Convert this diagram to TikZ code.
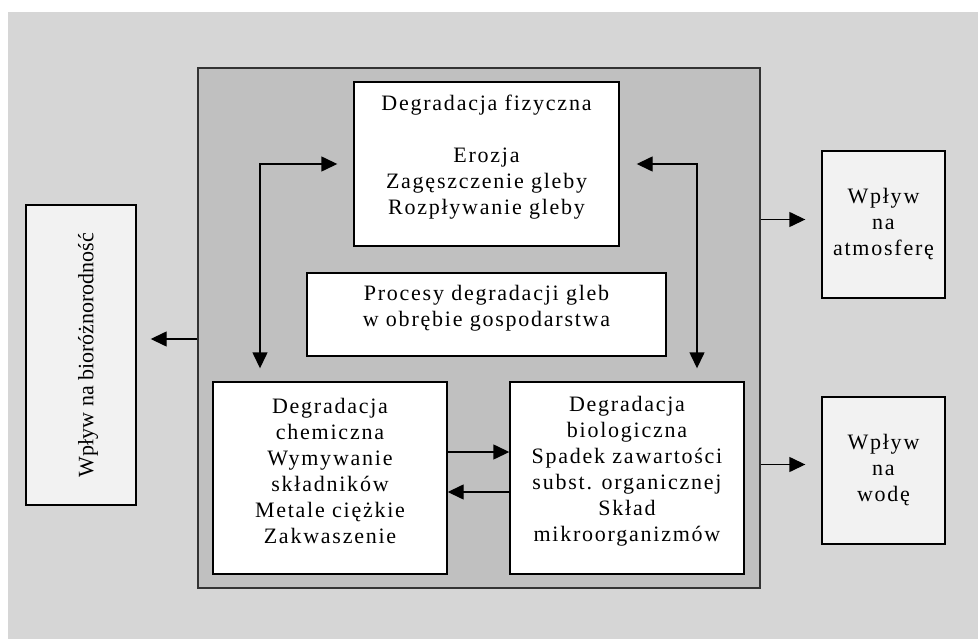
\documentclass[tikz,border=0pt]{standalone}
\usepackage{graphicx}
\usepackage{fontspec}
\setmainfont{Liberation Serif}
\newfontfamily\spacedfont{Liberation Serif}[LetterSpace=8]
\usetikzlibrary{arrows.meta, calc}
\definecolor{bggray}{HTML}{D6D6D6}
\definecolor{maingray}{HTML}{C0C0C0}
\definecolor{outerfill}{HTML}{F2F2F2}
\definecolor{frame}{HTML}{333333}

\begin{document}
\begin{tikzpicture}[x=1pt, y=-1pt,
    box/.style={draw, line width=1.4pt, fill=#1, align=center, inner sep=0pt, font=\spacedfont\fontsize{22pt}{26pt}\selectfont},
    arrow/.style={-{Triangle[length=16pt, width=15pt]}, line width=1.4pt},
    dblarrow/.style={{Triangle[length=16pt, width=15pt]}-{Triangle[length=16pt, width=15pt]}, line width=1.4pt}
]
\useasboundingbox (0,0) rectangle (978,639);
\fill[bggray] (8,12) rectangle (978,639);

\node[draw=frame, line width=1.4pt, fill=maingray, minimum width=562pt, minimum height=520pt] (main) at (479,328) {};

\node[box=white, minimum width=265pt, minimum height=164pt, text depth=19pt] (phys) at (486.5,164) {Degradacja fizyczna\\[26pt]Erozja\\Zagęszczenie gleby\\Rozpływanie gleby};
\node[box=white, minimum width=359pt, minimum height=83pt, text depth=17pt] (proc) at (486.5,314.5) {Procesy degradacji gleb\\w obrębie gospodarstwa};
\node[box=white, minimum width=234pt, minimum height=192pt, text depth=14pt] (chem) at (330,478) {Degradacja\\chemiczna\\Wymywanie\\składników\\Metale ciężkie\\Zakwaszenie};
\node[box=white, minimum width=234pt, minimum height=192pt, text depth=19pt] (bio) at (627,478) {Degradacja\\biologiczna\\Spadek zawartości\\subst. organicznej\\Skład\\mikroorganizmów};

\node[box=outerfill, minimum width=123pt, minimum height=147pt] (atm) at (883.5,224.5) {Wpływ\\na\\atmosferę};
\node[box=outerfill, minimum width=123pt, minimum height=147pt] (water) at (883.5,470.5) {Wpływ\\na\\wodę};
\node[box=outerfill, minimum width=110pt, minimum height=300pt, font=\fontsize{22pt}{26pt}\selectfont] (biodiv) at (81,355) {\rotatebox{90}{\raisebox{-7pt}[\height][\depth]{Wpływ na bioróżnorodność}}};

\draw[dblarrow, shorten <=13pt, shorten >=16pt] ([xshift=-70pt]chem.north) |- (phys.west);
\draw[dblarrow, shorten <=13pt, shorten >=17pt] ([xshift=70pt]bio.north) |- (phys.east);
\draw[arrow] ([yshift=26pt]chem.east) -- ([yshift=26pt]bio.west);
\draw[arrow] ([yshift=-14pt]bio.west) -- ([yshift=-14pt]chem.east);

\coordinate (atmin) at ([yshift=5pt, xshift=-16pt]atm.west);
\coordinate (waterin) at ([yshift=6pt, xshift=-16pt]water.west);
\coordinate (biodivin) at ([yshift=16pt, xshift=14pt]biodiv.east);
\draw[arrow] (main.east |- atmin) -- (atmin);
\draw[arrow] (main.east |- waterin) -- (waterin);
\draw[arrow] (main.west |- biodivin) -- (biodivin);
\end{tikzpicture}
\end{document}
